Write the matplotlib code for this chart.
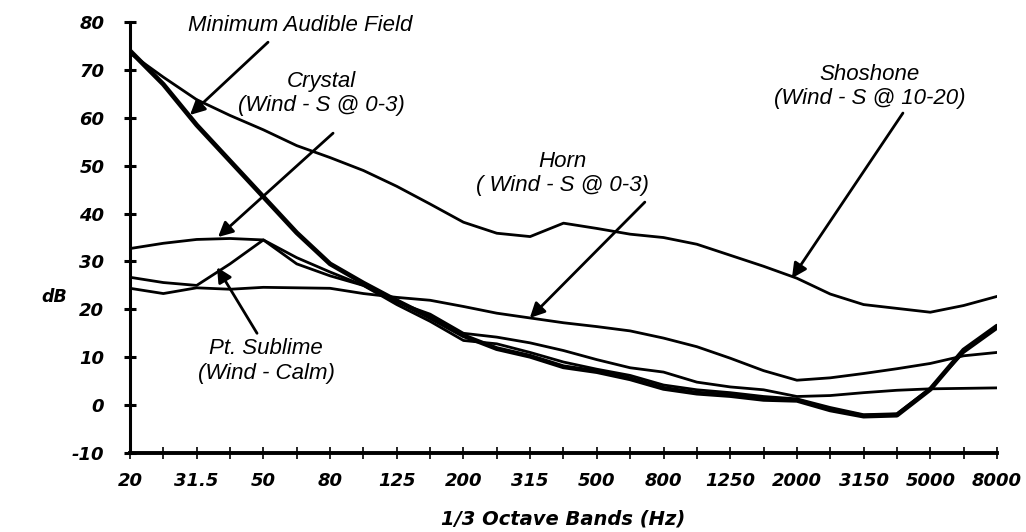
import numpy as np
import matplotlib.pyplot as plt

plt.rcParams['font.family'] = ['Liberation Sans', 'DejaVu Sans']
plt.rcParams['axes.unicode_minus'] = False

# 1/3 octave band centre frequencies (Hz)
bands = ['20', '25', '31.5', '40', '50', '63', '80', '100', '125', '160', '200',
         '250', '315', '400', '500', '630', '800', '1000', '1250', '1600', '2000',
         '2500', '3150', '4000', '5000', '6300', '8000']

# levels in dB, one value per band
maf = [74, 67, 58.5, 51, 43.5, 36, 29.5, 25.5, 21.8, 18.3, 14.5, 11.8, 10.2, 8,
       7, 5.5, 3.5, 2.5, 2, 1.2, 1, -1, -2.3, -2.1, 3.3, 11.5, 16.5]
shoshone = [73.5, 68.5, 63.8, 60.5, 57.5, 54.2, 51.7, 49, 45.7, 42, 38.2, 35.9,
            35.2, 38, 36.9, 35.7, 35, 33.6, 31.3, 29, 26.5, 23.2, 21, 20.2, 19.4,
            20.8, 22.7]
horn = [24.4, 23.3, 24.5, 24.2, 24.6, 24.5, 24.4, 23.3, 22.5, 21.9, 20.6, 19.2,
        18.2, 17.2, 16.4, 15.5, 14, 12.2, 9.8, 7.2, 5.2, 5.7, 6.6, 7.6, 8.7, 10.3, 11]
crystal = [32.7, 33.8, 34.6, 34.8, 34.5, 30.8, 27.8, 25, 21.5, 19, 15, 14.2, 13,
           11.4, 9.5, 7.8, 6.9, 4.8, 3.8, 3.2, 1.8, 2, 2.6, 3.1, 3.4, 3.5, 3.6]
pt_sublime = [26.7, 25.6, 25, 29.5, 34.5, 29.5, 27, 25, 21, 17.5, 13.5, 12.8, 11,
              9, 7.5, 6.2, 4.2, 3.2, 2.6, 1.8, 1.3, -0.5, -2, -1.8, 3.5, 11, 16]

x = np.arange(len(bands))

fig = plt.figure(figsize=(10.26, 5.32), dpi=100)
ax = fig.add_axes([0.1267, 0.1485, 0.845, 0.81])

ax.plot(x, maf, color='black', lw=3.4, solid_capstyle='round')
ax.plot(x, shoshone, color='black', lw=2)
ax.plot(x, horn, color='black', lw=2)
ax.plot(x, crystal, color='black', lw=2)
ax.plot(x, pt_sublime, color='black', lw=2)

ax.set_xlim(0, len(bands) - 1)
ax.set_ylim(-10, 80)
ax.set_xticks(x)
ax.set_xticklabels([b if i % 2 == 0 else '' for i, b in enumerate(bands)])
ax.set_yticks(np.arange(-10, 81, 10))

for s in ['top', 'right']:
    ax.spines[s].set_visible(False)
ax.spines['left'].set_linewidth(2.2)
ax.spines['bottom'].set_linewidth(2.8)
ax.tick_params(axis='y', direction='inout', length=9, width=2.2, pad=14)
ax.tick_params(axis='x', direction='inout', length=8, width=1.2, pad=9.5)

for lab in ax.get_xticklabels() + ax.get_yticklabels():
    lab.set_family('DejaVu Sans')
    lab.set_fontsize(13)
    lab.set_fontweight('bold')
    lab.set_fontstyle('italic')

ax.set_xlabel('1/3 Octave Bands (Hz)', fontsize=14, fontweight='bold',
              fontstyle='italic', family='DejaVu Sans', labelpad=14)
ax.text(-0.087, 0.362, 'dB', transform=ax.transAxes, fontsize=12.5,
        fontweight='bold', fontstyle='italic', family='DejaVu Sans',
        ha='center', va='center')

arrow = dict(arrowstyle='-|>', color='black', lw=2, mutation_scale=22,
             shrinkA=0, shrinkB=0)
txt = dict(fontsize=16, fontstyle='italic', ha='center', va='center',
           linespacing=1.2)

ax.annotate('', xy=(1.8, 60.6), xytext=(4.14, 75.8), arrowprops=arrow)
ax.text(5.1, 79.3, 'Minimum Audible Field', **txt)

ax.annotate('', xy=(2.64, 35.1), xytext=(6.09, 56.8), arrowprops=arrow)
ax.text(5.73, 65, 'Crystal\n(Wind - S @ 0-3)', **txt)

ax.annotate('', xy=(11.99, 18.2), xytext=(15.44, 42.4), arrowprops=arrow)
ax.text(12.98, 48.4, 'Horn\n( Wind - S @ 0-3)', **txt)

ax.annotate('', xy=(19.85, 26.5), xytext=(23.18, 61), arrowprops=arrow)
ax.text(22.19, 66.6, 'Shoshone\n(Wind - S @ 10-20)', **txt)

ax.annotate('', xy=(2.61, 28.8), xytext=(3.81, 15), arrowprops=arrow)
ax.text(4.08, 9.2, 'Pt. Sublime\n(Wind - Calm)', **txt)

fig.savefig('out.png', dpi=100)
